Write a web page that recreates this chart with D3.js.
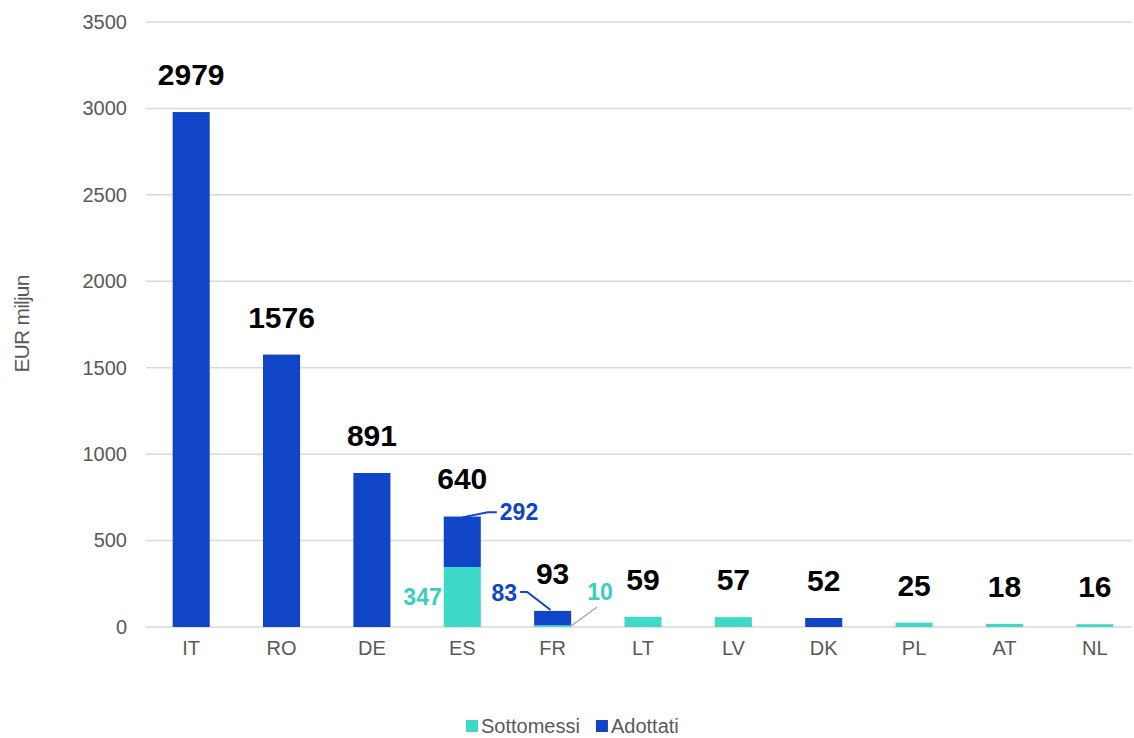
<!DOCTYPE html>
<html>
<head>
<meta charset="utf-8">
<script src="https://cdn.jsdelivr.net/npm/d3@7"></script>
<style>
  body { margin: 0; background: #fff; }
  text { font-family: "Liberation Sans", Arial, sans-serif; }
</style>
</head>
<body>
<svg width="1134" height="738"></svg>
<script>
// data
let countries = ["IT", "RO", "DE", "ES", "FR", "LT", "LV", "DK", "PL", "AT", "NL"];
let sottomessi = [0, 0, 0, 347, 10, 59, 57, 0, 25, 18, 16];
let adottati = [2979, 1576, 891, 292, 83, 0, 0, 52, 0, 0, 0];
let totals = [2979, 1576, 891, 640, 93, 59, 57, 52, 25, 18, 16];
let yTicks = [0, 500, 1000, 1500, 2000, 2500, 3000, 3500];
let seriesNames = ["Sottomessi", "Adottati"];

let teal = "#3fd9c8";
let tealText = "#38cfbe";
let blue = "#1045c8";

let svg = d3.select("svg");

let x = d3.scaleBand()
  .domain(countries)
  .range([146, 1140])
  .paddingInner(0.59)
  .paddingOuter(0.295);

let y = d3.scaleLinear()
  .domain([0, 3500])
  .range([627, 22]);

// gridlines
svg.append("g")
  .selectAll("line")
  .data(yTicks)
  .enter().append("line")
    .attr("x1", 146)
    .attr("x2", 1132)
    .attr("y1", d => y(d))
    .attr("y2", d => y(d))
    .attr("stroke", "#d9d9d9")
    .attr("stroke-width", 1.5);

// y axis
let yAxis = svg.append("g")
  .attr("transform", "translate(127,0)")
  .call(d3.axisLeft(y).tickValues(yTicks).tickFormat(d3.format("d")).tickSize(0).tickPadding(0));
yAxis.select(".domain").remove();
yAxis.selectAll("text")
  .attr("font-size", 20)
  .attr("fill", "#595959")
  .attr("font-family", "Liberation Sans, Arial, sans-serif");

// x axis
let xAxis = svg.append("g")
  .attr("transform", "translate(0,641)")
  .call(d3.axisBottom(x).tickSize(0).tickPadding(0));
xAxis.select(".domain").remove();
xAxis.selectAll("text")
  .attr("font-size", 20)
  .attr("dy", "0.72em")
  .attr("fill", "#595959")
  .attr("font-family", "Liberation Sans, Arial, sans-serif");

// y title
svg.append("text")
  .attr("transform", "translate(29,324) rotate(-90)")
  .attr("text-anchor", "middle")
  .attr("font-size", 21)
  .attr("letter-spacing", -0.8)
  .attr("fill", "#595959")
  .text("EUR miljun");

// stacked bars
let rows = countries.map((c, i) => ({ country: c, Sottomessi: sottomessi[i], Adottati: adottati[i] }));
let stack = d3.stack().keys(seriesNames)(rows);
let colors = { Sottomessi: teal, Adottati: blue };

svg.append("g")
  .selectAll("g")
  .data(stack)
  .enter().append("g")
    .attr("fill", d => colors[d.key])
  .selectAll("rect")
  .data(d => d)
  .enter().append("rect")
    .attr("x", d => x(d.data.country))
    .attr("width", x.bandwidth())
    .attr("y", d => y(d[1]))
    .attr("height", d => y(d[0]) - y(d[1]));

// total labels
svg.append("g")
  .selectAll("text")
  .data(countries)
  .enter().append("text")
    .attr("x", d => x(d) + x.bandwidth() / 2)
    .attr("y", (d, i) => y(totals[i]) - 27)
    .attr("text-anchor", "middle")
    .attr("font-size", 30)
    .attr("font-weight", "bold")
    .attr("fill", "#000")
    .text((d, i) => totals[i]);

// segment labels for ES and FR
let es = countries.indexOf("ES");
let fr = countries.indexOf("FR");
let esX = x("ES"), frX = x("FR"), bw = x.bandwidth();

svg.append("text")
  .attr("x", esX - 2)
  .attr("y", y(sottomessi[es] / 2) + 8)
  .attr("text-anchor", "end")
  .attr("font-size", 23)
  .attr("font-weight", "bold")
  .attr("fill", tealText)
  .text(sottomessi[es]);

svg.append("path")
  .attr("d", `M${esX + bw / 2},${y(totals[es]) + 1} L${esX + bw + 7},${y(totals[es]) - 4} L${esX + bw + 16},${y(totals[es]) - 4}`)
  .attr("fill", "none")
  .attr("stroke", blue)
  .attr("stroke-width", 2);
svg.append("text")
  .attr("x", esX + bw + 19)
  .attr("y", y(totals[es]) + 4)
  .attr("font-size", 23)
  .attr("font-weight", "bold")
  .attr("fill", blue)
  .text(adottati[es]);

svg.append("path")
  .attr("d", `M${frX + bw / 2 - 2},${y(totals[fr]) - 1} L${frX - 7},${y(totals[fr]) - 19} L${frX - 14},${y(totals[fr]) - 19}`)
  .attr("fill", "none")
  .attr("stroke", blue)
  .attr("stroke-width", 2);
svg.append("text")
  .attr("x", frX - 17)
  .attr("y", y(totals[fr]) - 10)
  .attr("text-anchor", "end")
  .attr("font-size", 23)
  .attr("font-weight", "bold")
  .attr("fill", blue)
  .text(adottati[fr]);

svg.append("line")
  .attr("x1", frX + bw)
  .attr("y1", y(0) - 1)
  .attr("x2", frX + bw + 26)
  .attr("y2", y(0) - 20)
  .attr("stroke", "#a6a6a6")
  .attr("stroke-width", 1.5);
svg.append("text")
  .attr("x", frX + bw + 16)
  .attr("y", y(0) - 27)
  .attr("font-size", 23)
  .attr("font-weight", "bold")
  .attr("fill", tealText)
  .text(sottomessi[fr]);

// legend
let legend = svg.append("g").attr("transform", "translate(466,726)");
let lx = 0;
seriesNames.forEach(name => {
  let item = legend.append("g").attr("transform", `translate(${lx},0)`);
  item.append("rect")
    .attr("x", 0).attr("y", -6)
    .attr("width", 12).attr("height", 12)
    .attr("fill", colors[name]);
  let t = item.append("text")
    .attr("x", 15)
    .attr("y", 7)
    .attr("font-size", 20)
    .attr("fill", "#595959")
    .text(name);
  lx += 15 + t.node().getComputedTextLength() + 16;
});
</script>
</body>
</html>
